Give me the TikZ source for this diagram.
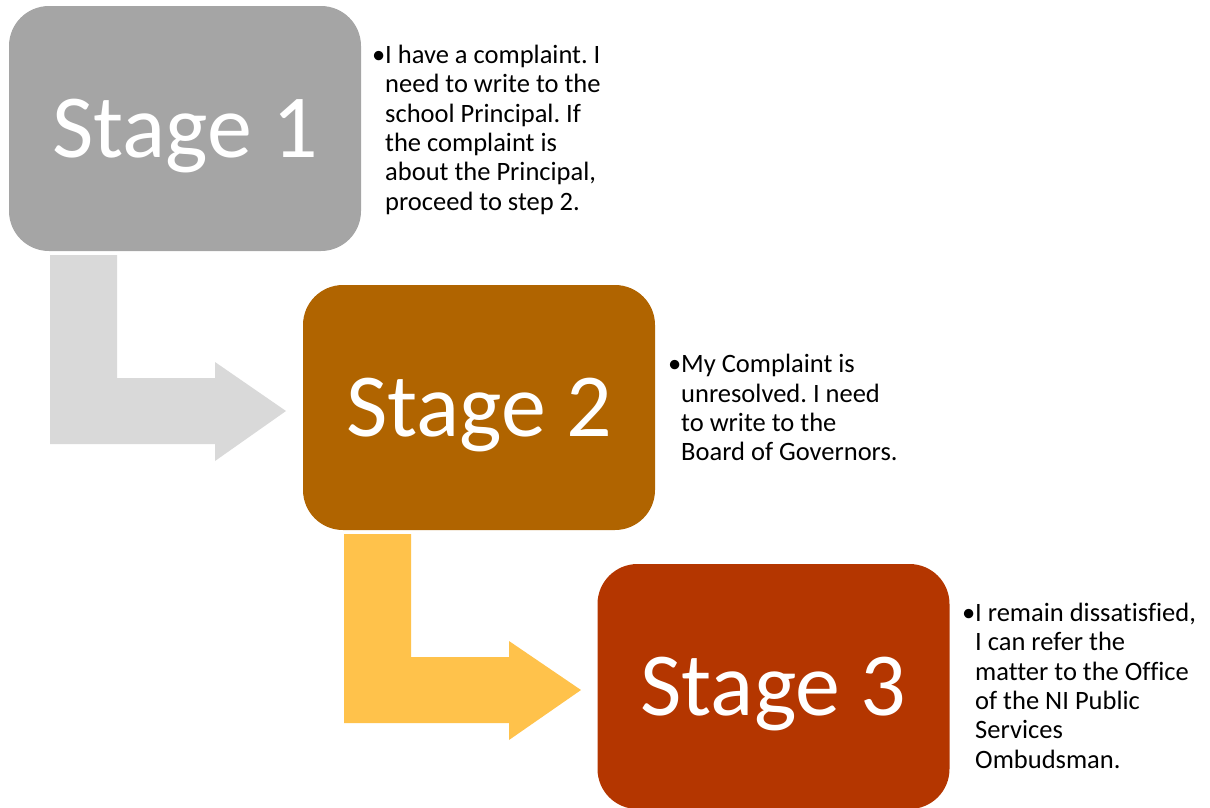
\documentclass[tikz,border=0pt]{standalone}
\usepackage{fontspec}
\setmainfont{Carlito}[Ligatures={NoCommon}]
\frenchspacing
\definecolor{boxone}{HTML}{A5A5A5}
\definecolor{arrowone}{HTML}{D9D9D9}
\definecolor{boxtwo}{HTML}{B06400}
\definecolor{arrowtwo}{HTML}{FFC24B}
\definecolor{boxthree}{HTML}{B43600}
\newcommand{\bul}{\makebox[13pt][l]{•}}
\begin{document}
\begin{tikzpicture}[x=1pt,y=-1pt,
  stagebox/.style={rectangle, rounded corners=40pt, minimum width=352pt, minimum height=245pt,
    inner sep=0pt, text=white, font=\fontsize{90}{100}\selectfont, text height=58pt, text depth=0pt},
  desc/.style={anchor=west, inner sep=0pt, font=\fontsize{26.5}{29.4}\selectfont, align=left}]
\useasboundingbox (0,0) rectangle (1210,807);
% bent arrows
\fill[arrowone] (50,255) -- (117,255) -- (117,378) -- (215,378) -- (215,362) -- (286,411)
  -- (215,461) -- (215,444) -- (50,444) -- cycle;
\fill[arrowtwo] (344,534) -- (411,534) -- (411,657) -- (509,657) -- (509,641) -- (581,690)
  -- (509,740) -- (509,723) -- (344,723) -- cycle;
% boxes
\node[stagebox, fill=boxone] (s1) at (185,128.5) {Stage 1};
\node[stagebox, fill=boxtwo] (s2) at (479,407.5) {Stage 2};
\node[stagebox, fill=boxthree] (s3) at (773.5,686.5) {Stage 3};
% descriptions
\node[desc] (d1) at (372,131) {\begin{tabular}{@{}l@{}l@{}}
\bul&I have a complaint. I\\ &need to write to the\\ &school Principal. If\\ &the complaint is\\ &about the Principal,\\ &proceed to step 2.\end{tabular}};
\node[desc] (d2) at (668,411) {\begin{tabular}{@{}l@{}l@{}}
\bul&My Complaint is\\ &unresolved. I need\\ &to write to the\\ &Board of Governors.\end{tabular}};
\node[desc] (d3) at (962,689) {\begin{tabular}{@{}l@{}l@{}}
\bul&I remain dissatisfied,\\ &I can refer the\\ &matter to the Office\\ &of the NI Public\\ &Services\\ &Ombudsman.\end{tabular}};
\end{tikzpicture}
\end{document}
